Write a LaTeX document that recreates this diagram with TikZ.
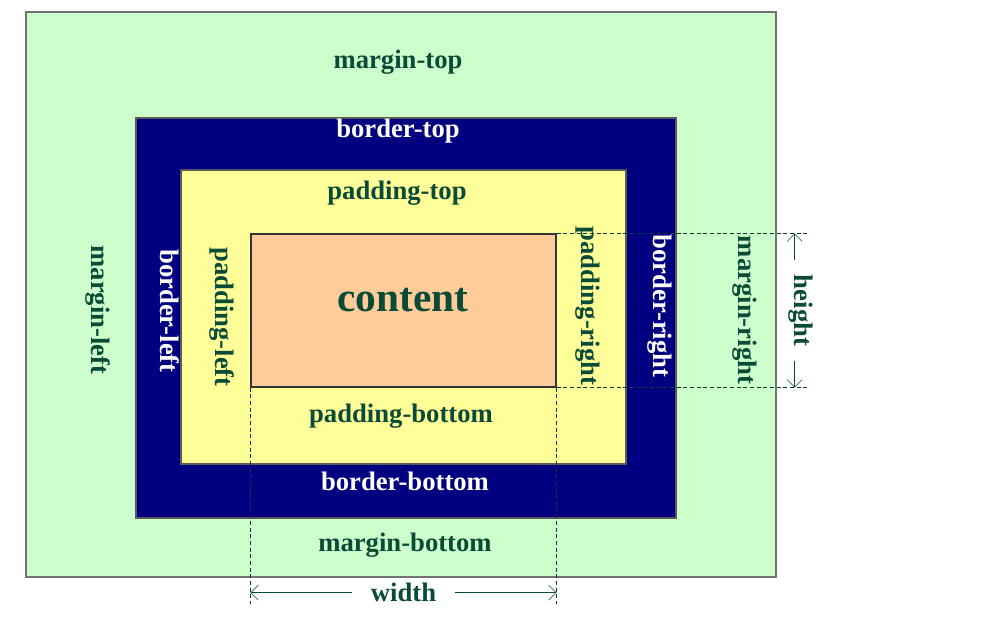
\documentclass[tikz,border=0pt]{standalone}
\usepackage{fontspec}
\setmainfont{Liberation Serif}
\usepackage{xcolor}
\usepackage{tikz}
\usetikzlibrary{arrows.meta,calc}
\definecolor{margingreen}{RGB}{204,255,204}
\definecolor{bordernavy}{RGB}{0,0,128}
\definecolor{padyellow}{RGB}{255,255,153}
\definecolor{contentpeach}{RGB}{255,204,153}
\definecolor{labelgreen}{RGB}{10,75,55}
\tikzset{
  box/.style={rectangle, draw=black!65, line width=0.8pt, inner sep=0pt},
  marginbox/.style={box, fill=margingreen, draw=black!55},
  borderbox/.style={box, fill=bordernavy},
  padbox/.style={box, fill=padyellow},
  contentbox/.style={box, fill=contentpeach, draw=black!80},
  lbl/.style={font=\fontsize{20}{24}\selectfont\bfseries, text=labelgreen, inner sep=0pt},
  wlbl/.style={lbl, text=white},
  guide/.style={dashed, thin, labelgreen!80!black, dash pattern=on 3pt off 2pt},
  dim/.style={{Straight Barb[length=2mm]}-{Straight Barb[length=2mm]}, thin, labelgreen}
}

\begin{document}
\begin{tikzpicture}[x=0.75pt, y=-0.75pt]
        \useasboundingbox (0,0) rectangle (984,626);
        % nested boxes
        \node[marginbox, minimum width=562.5pt, minimum height=423.75pt] (margin) at (401,294.5) {};
        \node[borderbox, minimum width=405pt, minimum height=300pt] (border) at (406,318) {};
        \node[padbox, minimum width=333.75pt, minimum height=220.5pt] (padding) at (403.5,317) {};
        \node[contentbox, minimum width=228.75pt, minimum height=114.75pt] (content) at (403.5,310.5) {};
        \node[lbl, font=\fontsize{31}{36}\selectfont\bfseries] (ctext) at (403,300) {content};
        % horizontal labels
        \node[lbl] (mtop) at (398,62) {margin-top};
        \node[wlbl] (btop) at (398,131) {border-top};
        \node[lbl] (ptop) at (397,193) {padding-top};
        \node[lbl] (pbottom) at (401,416) {padding-bottom};
        \node[wlbl] (bbottom) at (405,481) {border-bottom};
        \node[lbl] (mbottom) at (405,545) {margin-bottom};
        % vertical labels
        \node[lbl, rotate=-90] (mleft) at (98,310) {margin-left};
        \node[wlbl, rotate=-90] (bleft) at (170,311) {border-left};
        \node[lbl, rotate=-90] (pleft) at (222,317) {padding-left};
        \node[lbl, rotate=-90] (pright) at (588,306) {padding-right};
        \node[wlbl, rotate=-90] (bright) at (660,306) {border-right};
        \node[lbl, rotate=-90] (mright) at (745,310) {margin-right};
        % guides
        \coordinate (wl) at ($(content.south west)+(0,216)$);
        \coordinate (wr) at ($(content.south east)+(0,216)$);
        \coordinate (ht) at ($(content.north east)+(252,0)$);
        \coordinate (hb) at ($(content.south east)+(252,0)$);
        \draw[guide] (content.south west) -- (wl);
        \draw[guide] (content.south east) -- (wr);
        \draw[guide] (content.north east) -- (ht);
        \draw[guide] (content.south east) -- (hb);
        % dimensions
        \draw[dim] ($(content.south west)+(0,205)$) -- node[lbl, fill=white, inner xsep=14pt] (wtext) {width} ($(content.south east)+(0,205)$);
        \draw[dim] ($(content.north east)+(238,0)$) -- node[lbl, fill=white, rotate=-90, inner xsep=11pt, yshift=4.5pt] (htext) {height} ($(content.south east)+(238,0)$);
      \end{tikzpicture}
\end{document}
